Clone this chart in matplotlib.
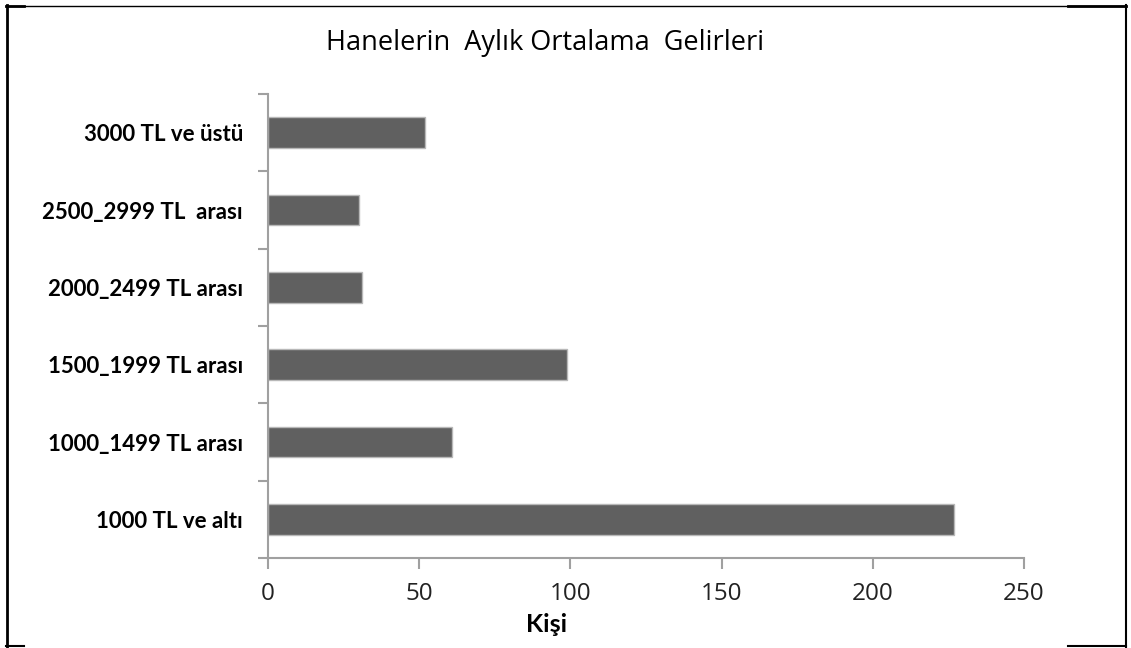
import matplotlib
matplotlib.use("Agg")
import matplotlib.pyplot as plt
from matplotlib.lines import Line2D

categories = ["1000 TL ve altı", "1000_1499 TL arası", "1500_1999 TL arası",
              "2000_2499 TL arası", "2500_2999 TL  arası", "3000 TL ve üstü"]
values = [227, 61, 99, 31, 30, 52]
xticks = [0, 50, 100, 150, 200, 250]

W, H = 1131, 648
fig = plt.figure(figsize=(W / 100, H / 100), dpi=100)
fig.patch.set_facecolor("white")

# axes box in pixels: x 268..1024, y 94..558 (from top)
ax = fig.add_axes([268 / W, 90 / H, 756 / W, 464 / H])

pos = list(range(len(categories)))
ax.barh(pos, values, height=0.4, color="#606060", edgecolor="#b8b8b8", linewidth=1)

ax.set_xlim(0, 250)
ax.set_ylim(-0.5, len(categories) - 0.5)
ax.set_xticks(xticks)
ax.set_xticklabels([str(t) for t in xticks], fontsize=17.5, family="Open Sans", color="#222222")

# separator ticks on the category axis, labels in between
ax.set_yticks([p - 0.5 for p in pos] + [len(categories) - 0.5])
ax.set_yticklabels([])
ax.set_yticks(pos, minor=True)
ax.set_yticklabels(categories, minor=True, fontsize=16, family="Lato", fontweight="bold")
ax.tick_params(axis="y", which="minor", length=0, pad=18)
ax.tick_params(axis="y", which="major", length=7, color="#a0a0a0", width=1.5)
ax.tick_params(axis="x", length=8, color="#a0a0a0", width=1.5, pad=9)

for s in ["top", "right"]:
    ax.spines[s].set_visible(False)
for s in ["left", "bottom"]:
    ax.spines[s].set_color("#a0a0a0")
    ax.spines[s].set_linewidth(1.5)

fig.text(545 / W, 1 - 43 / H, "Hanelerin  Aylık Ortalama  Gelirleri",
         ha="center", va="center", fontsize=19.5, family="Open Sans",
         fontweight="medium", color="black")
fig.text(547 / W, 1 - 625 / H, "Kişi", ha="center", va="center",
         fontsize=18, family="Lato", fontweight="bold")

# outer frame (partial, as in the picture)
def line(x0, y0, x1, y1, lw):
    fig.add_artist(Line2D([x0 / W, x1 / W], [1 - y0 / H, 1 - y1 / H],
                          color="black", linewidth=lw, transform=fig.transFigure))

line(6, 5.5, 1126, 5.5, 1.0)
line(6, 6, 24, 6, 2.0)
line(1068, 6, 1126, 6, 2.0)
line(6.5, 5, 6.5, 647, 2.0)
line(1126, 5, 1126, 647, 1.5)
line(6, 646, 24, 646, 1.5)
line(1068, 646, 1126, 646, 1.5)

fig.savefig("out.png", dpi=100)
